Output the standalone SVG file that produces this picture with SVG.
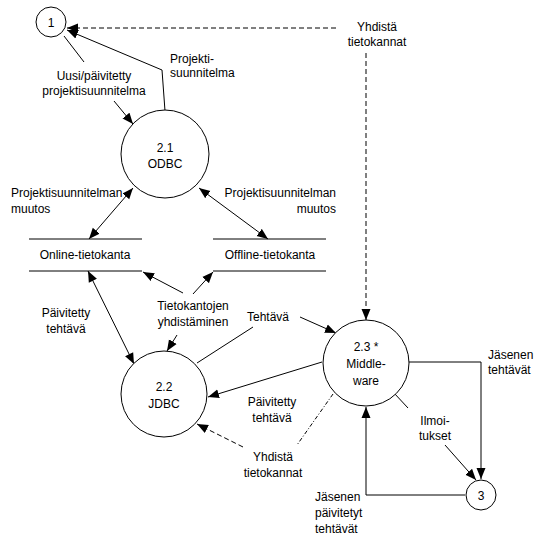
<svg xmlns="http://www.w3.org/2000/svg" width="545" height="547" viewBox="0 0 545 547">
<defs>
<style>
text{font-family:"Liberation Sans",Arial,sans-serif;font-size:12px;fill:#000}
.c{text-anchor:middle}
.r{text-anchor:end}
.n{fill:#fff;stroke:#000;stroke-width:1}
.l{fill:none;stroke:#000;stroke-width:1}
.d{stroke-dasharray:5,3}
.dd{stroke-dasharray:4,2,1,2}
.a{marker-end:url(#ah)}
.b{marker-start:url(#ah);marker-end:url(#ah)}
</style>
<marker id="ah" markerUnits="userSpaceOnUse" markerWidth="12" markerHeight="10" refX="11" refY="4.5" orient="auto-start-reverse" viewBox="0 0 12 9">
<path d="M0,0 L11,4.5 L0,9 z" fill="#000"/>
</marker>
</defs>
<rect width="545" height="547" fill="#fff"/>
<g id="connectors">
<path class="l d a" d="M336,28 H67"/>
<path class="l a" d="M165,111 L162,70 L67,30"/>
<path class="l" d="M64,36 L84,62"/>
<path class="l a" d="M114,101 L133,124"/>
<path class="l b" d="M133,188 L89,239"/>
<path class="l b" d="M199,188 L268,239"/>
<path class="l b" d="M88,271 L134,364"/>
<path class="l a" d="M183,293 L143,272"/>
<path class="l a" d="M193,294 L213,272"/>
<path class="l a" d="M177,335 L167,351"/>
<path class="l" d="M197,363 L253,327"/>
<path class="l a" d="M300,317 L336,333"/>
<path class="l a" d="M322,362 L208,397"/>
<path class="l dd" d="M333,394 L297,445"/>
<path class="l d a" d="M243,447 L197,424"/>
<path class="l d a" d="M366,53 V320"/>
<path class="l" d="M394,393 L408,408"/>
<path class="l a" d="M445,445 L476,480"/>
<path class="l a" d="M409,362 H481 V479"/>
<path class="l a" d="M465,495 H366 V407"/>
</g>
<g id="n1"><circle class="n" cx="51" cy="22" r="15"/><text class="c" x="51" y="27">1</text></g>
<g id="n21"><circle class="n" cx="165" cy="154" r="44"/><text class="c" x="165" y="152">2.1</text><text class="c" x="165" y="168">ODBC</text></g>
<g id="n22"><circle class="n" cx="164" cy="394" r="43"/><text class="c" x="164" y="391">2.2</text><text class="c" x="164" y="408">JDBC</text></g>
<g id="n23"><circle class="n" cx="366" cy="363" r="43"/><text class="c" x="366" y="351">2.3 *</text><text class="c" x="366" y="368">Middle-</text><text class="c" x="366" y="385">ware</text></g>
<g id="n3"><circle class="n" cx="481" cy="495" r="15"/><text class="c" x="481" y="500">3</text></g>
<g id="online"><path class="l" d="M29,239 H142 M29,271 H142"/><text class="c" x="85" y="259">Online-tietokanta</text></g>
<g id="offline"><path class="l" d="M213,239 H326 M213,271 H326"/><text class="c" x="270" y="259">Offline-tietokanta</text></g>
<g id="labels">
<text class="c" x="377" y="31">Yhdistä</text><text class="c" x="377" y="46">tietokannat</text>
<text x="170" y="63">Projekti-</text><text x="170" y="77">suunnitelma</text>
<text class="c" x="94" y="80">Uusi/päivitetty</text><text class="c" x="94" y="95">projektisuunnitelma</text>
<text x="11" y="197">Projektisuunnitelman</text><text x="11" y="213">muutos</text>
<text class="r" x="336" y="197">Projektisuunnitelman</text><text class="r" x="336" y="213">muutos</text>
<text class="c" x="193" y="310">Tietokantojen</text><text class="c" x="193" y="326">yhdistäminen</text>
<text class="c" x="66" y="317">Päivitetty</text><text class="c" x="66" y="333">tehtävä</text>
<text class="c" x="268" y="321">Tehtävä</text>
<text class="c" x="272" y="406">Päivitetty</text><text class="c" x="272" y="422">tehtävä</text>
<text class="c" x="273" y="461">Yhdistä</text><text class="c" x="273" y="477">tietokannat</text>
<text class="c" x="435" y="425">Ilmoi-</text><text class="c" x="435" y="440">tukset</text>
<text x="488" y="359">Jäsenen</text><text x="488" y="374">tehtävät</text>
<text x="315" y="501">Jäsenen</text><text x="315" y="517">päivitetyt</text><text x="315" y="533">tehtävät</text>
</g>
</svg>
